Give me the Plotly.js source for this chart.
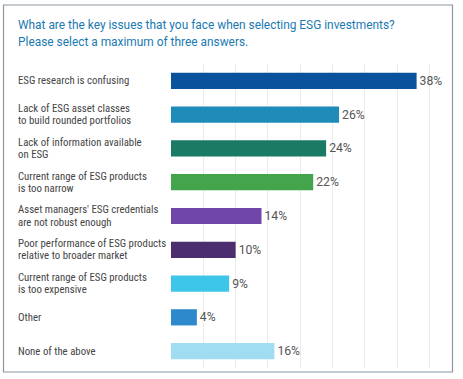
<!DOCTYPE html>
<html><head><meta charset="utf-8">
<script src="https://cdn.plot.ly/plotly-3.0.1.min.js"></script>
<style>html,body{margin:0;padding:0;background:#fff}#chart{width:463px;height:379px}
#chart text[style*="10.8px"]{font-stretch:80%}
#chart text[style*="12.2px"]{font-stretch:90%}</style>
</head><body><div id="chart"></div>
<script>
const categories = [
  "ESG research is confusing",
  "Lack of ESG asset classes<br>to build rounded portfolios",
  "Lack of information available<br>on ESG",
  "Current range of ESG products<br>is too narrow",
  "Asset managers' ESG credentials<br>are not robust enough",
  "Poor performance of ESG products<br>relative to broader market",
  "Current range of ESG products<br>is too expensive",
  "Other",
  "None of the above"
];
const values = [38, 26, 24, 22, 14, 10, 9, 4, 16];
const valueLabels = ["38%", "26%", "24%", "22%", "14%", "10%", "9%", "4%", "16%"];
const barColors = ["#0b529c", "#1f8bb9", "#1a7a63", "#44a44b", "#7146a9", "#4c2d6d", "#3ec5ea", "#2e88cc", "#a0ddf2"];
const titleLines = ["What are the key issues that you face when selecting ESG investments?",
                    "Please select a maximum of three answers."];

const FONT = "Roboto, 'Liberation Sans', sans-serif";
const L = 171, R = 27, T = 64, B = 11, W = 463, H = 379;
const pw = W - L - R, ph = H - T - B;
const px = x => (x - L) / pw;
const py = y => (H - B - y) / ph;

const ids = categories.map((c, i) => "c" + i);
const annotations = [];
titleLines.forEach((t, j) => {
  annotations.push({
    xref: "paper", yref: "paper", x: px(16), y: py(25 + j * 17), xanchor: "left", yanchor: "middle",
    text: t, showarrow: false, align: "left",
    font: {family: FONT, size: 11.9, color: "#1b79b1"}
  });
});
categories.forEach((c, i) => {
  const lines = c.split("<br>");
  lines.forEach((ln, j) => {
    const off = (lines.length - 1) / 2 - j;
    annotations.push({
      xref: "paper", yref: "y", x: px(16), y: ids[i], xanchor: "left", yanchor: "middle",
      text: ln, showarrow: false, align: "left", yshift: off * 12.3,
      font: {family: FONT, size: 10.8, color: "#454545"}
    });
  });
});

const trace = {
  type: "bar", orientation: "h", y: ids, x: values,
  marker: {color: barColors},
  text: valueLabels, textposition: "outside", cliponaxis: false,
  textfont: {family: FONT, size: 12.2, color: "#555"},
  hoverinfo: "skip"
};

const layout = {
  width: W, height: H,
  margin: {l: L, r: R, t: T, b: B},
  paper_bgcolor: "#fff", plot_bgcolor: "#fff",
  showlegend: false,
  bargap: 0.52,
  xaxis: {range: [0, 41], dtick: 5, tick0: 0, showgrid: true, gridcolor: "#ebebeb", gridwidth: 1,
          zeroline: false, showticklabels: false, showline: false, ticks: "", fixedrange: true},
  yaxis: {type: "category", autorange: "reversed", showticklabels: false, showgrid: false,
          zeroline: false, showline: false, ticks: ""},
  annotations: annotations,
  shapes: [{type: "rect", xref: "paper", yref: "paper",
            x0: px(3.5), x1: px(452.5), y0: py(372), y1: py(5),
            line: {color: "#8d979f", width: 1.2}, fillcolor: "rgba(0,0,0,0)", layer: "below"}]
};

Plotly.newPlot("chart", [trace], layout, {displayModeBar: false, staticPlot: true});
</script></body></html>
